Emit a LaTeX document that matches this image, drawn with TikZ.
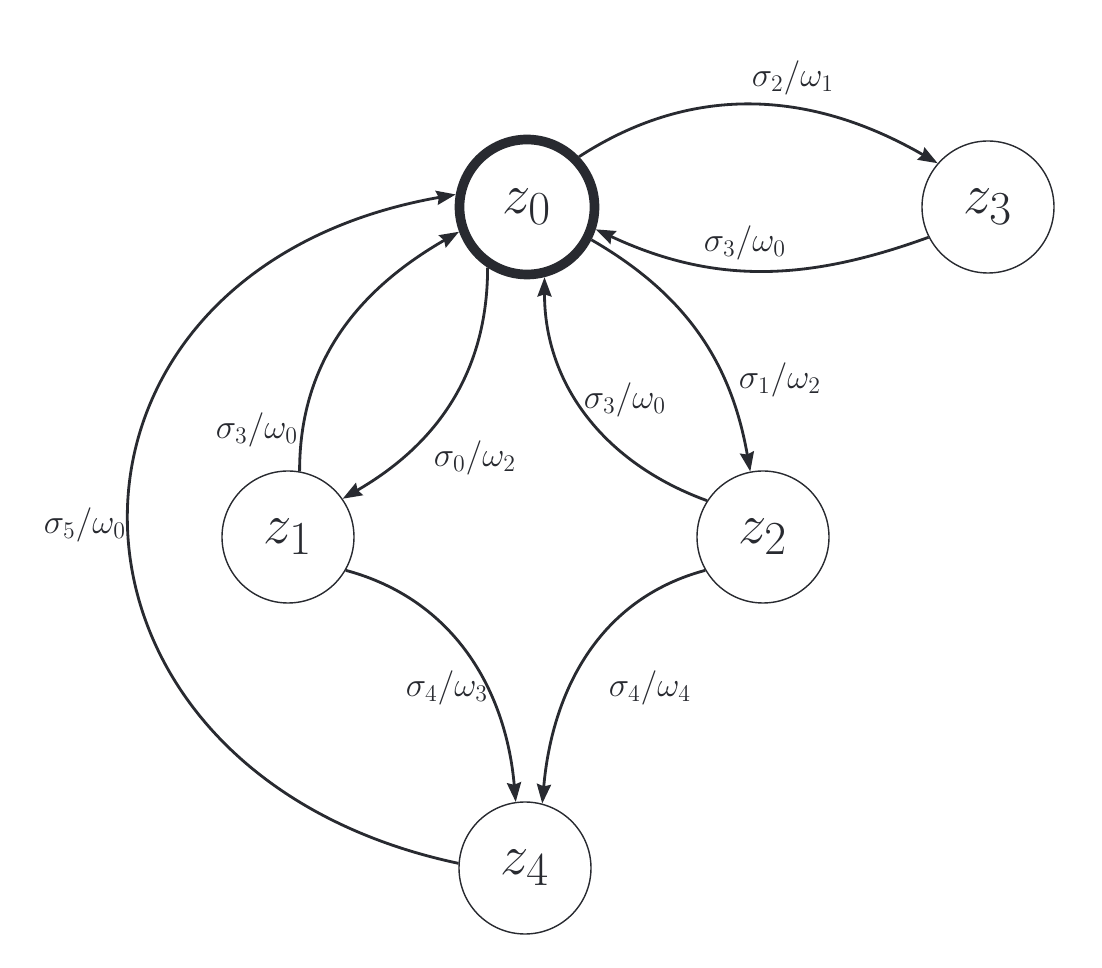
\documentclass[tikz,border=0pt]{standalone}
\usepackage{amsmath}
\usepackage{graphicx}
\usepackage{tikz}
\usetikzlibrary{arrows.meta, positioning}
\definecolor{inkgray}{RGB}{40, 42, 48}
\newcommand{\statename}[1]{\scalebox{1.3}{$#1$}}

\begin{document}
\begin{tikzpicture}[
    state/.style={circle, draw=inkgray, line width=0.8pt, minimum size=2.64cm, inner sep=0pt,
      text=inkgray, font=\Huge},
    initstate/.style={state, line width=5.5pt, minimum size=2.7cm},
    edge/.style={draw=inkgray, line width=1.6pt, -{Stealth[length=11pt, width=8pt, inset=1.2pt]}},
    lbl/.style={text=inkgray, font=\LARGE, scale=1.13}
  ]
  \useasboundingbox (0,0) rectangle (22.04,19.36);

  % states
  \node[initstate] (z0) at (10.54,15.22) {\statename{z_0}};
  \node[state] (z3) at (19.76,15.22) {\statename{z_3}};
  \node[state] (z1) at (5.76,8.62) {\statename{z_1}};
  \node[state] (z2) at (15.26,8.62) {\statename{z_2}};
  \node[state] (z4) at (10.50,2.00) {\statename{z_4}};

  % transitions
  \draw[edge] (z0.44) to[out=33, in=150] (z3.139);
  \draw[edge] (z3.207) to[out=200, in=-25] (z0.-18);
  \draw[edge] (z0.237) to[out=-90, in=30] (z1.35);
  \draw[edge] (z1.80) to[out=90, in=210] (z0.200);
  \draw[edge] (z4.176) to[out=168, in=190, looseness=1.7] (z0.170);
  \draw[edge] (z0.-27) to[out=-30, in=100] (z2.101);
  \draw[edge] (z2.147) to[out=160, in=-90] (z0.-76);
  \draw[edge] (z1.-30) to[out=-15, in=95] (z4.98);
  \draw[edge] (z2.210) to[out=195, in=85] (z4.75);

  % labels
  \node[lbl] (l23) at (15.86,17.80) {$\sigma_2/\omega_1$};
  \node[lbl] (l30) at (14.90,14.50) {$\sigma_3/\omega_0$};
  \node[lbl] (l01) at (9.50,10.20) {$\sigma_0/\omega_2$};
  \node[lbl] (l10) at (5.14,10.76) {$\sigma_3/\omega_0$};
  \node[lbl] (l02) at (15.60,11.76) {$\sigma_1/\omega_2$};
  \node[lbl] (l20) at (12.50,11.36) {$\sigma_3/\omega_0$};
  \node[lbl] (l14) at (8.94,5.60) {$\sigma_4/\omega_3$};
  \node[lbl] (l24) at (13.00,5.60) {$\sigma_4/\omega_4$};
  \node[lbl] (l40) at (1.70,8.86) {$\sigma_5/\omega_0$};
\end{tikzpicture}
\end{document}
